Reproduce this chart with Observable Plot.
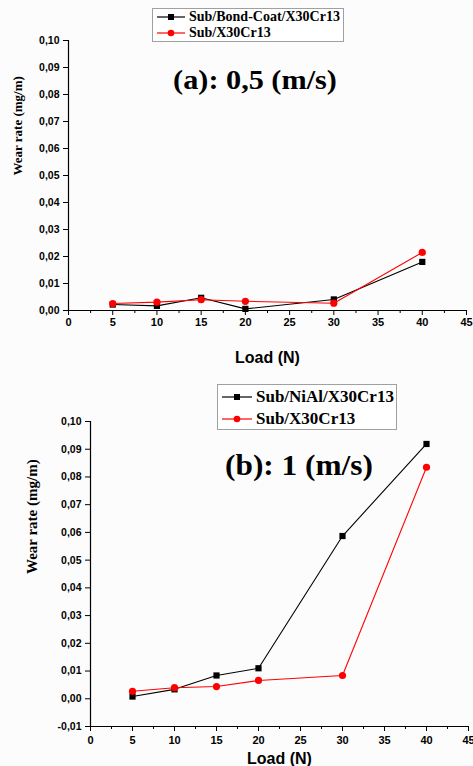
<!DOCTYPE html>
<html>
<head>
<meta charset="utf-8">
<script src="https://cdn.jsdelivr.net/npm/d3@7"></script>
<script src="https://cdn.jsdelivr.net/npm/@observablehq/plot@0.6"></script>
<style>
  html, body { margin: 0; padding: 0; background: #fcfcfc; }
  #wrap { width: 473px; height: 766px; position: relative; overflow: hidden; }
  .panel { position: relative; width: 473px; }
  .panel svg { display: block; background: transparent; }
  .title { position: absolute; font-family: "Liberation Serif", "Times New Roman", serif; font-weight: bold; color: #000; white-space: nowrap; transform: translate(-50%, -50%) scaleX(1.08); }
  .legend { position: absolute; border: 1px solid #a0a0a0; background: #fff; font-family: "Liberation Serif", "Times New Roman", serif; font-weight: bold; color: #000; box-sizing: border-box; }
  .legend .row { display: flex; align-items: center; white-space: nowrap; }
  .legend svg { display: block; flex: none; }
</style>
</head>
<body>
<div id="wrap"></div>
<script>
// ---- data ----
const loads = [5, 10, 15, 20, 30, 40];
const seriesA_names = ["Sub/Bond-Coat/X30Cr13", "Sub/X30Cr13"];
const seriesA_black = [0.0022, 0.0017, 0.0047, 0.0006, 0.0041, 0.0180];
const seriesA_red   = [0.0026, 0.0031, 0.0040, 0.0034, 0.0027, 0.0215];
const seriesB_names = ["Sub/NiAl/X30Cr13", "Sub/X30Cr13"];
const seriesB_black = [0.0008, 0.0034, 0.0084, 0.0110, 0.0587, 0.0919];
const seriesB_red   = [0.0027, 0.0040, 0.0044, 0.0066, 0.0084, 0.0835];
const xTicks = [0, 5, 10, 15, 20, 25, 30, 35, 40, 45];
const xMinorTicks = [2.5, 7.5, 12.5, 17.5, 22.5, 27.5, 32.5, 37.5, 42.5];
const yTicksA = [0, 0.01, 0.02, 0.03, 0.04, 0.05, 0.06, 0.07, 0.08, 0.09, 0.10];
const yTicksB = [-0.01, 0, 0.01, 0.02, 0.03, 0.04, 0.05, 0.06, 0.07, 0.08, 0.09, 0.10];
const titleA = "(a): 0,5 (m/s)";
const titleB = "(b): 1 (m/s)";
const xLabel = "Load (N)";
const yLabel = "Wear rate (mg/m)";

const fmt = d => d.toFixed(2).replace(".", ",");
const sansBold = {fontFamily: "Liberation Sans, Arial, sans-serif", fontWeight: "bold"};

function rows(ys) { return loads.map((x, i) => ({x, y: ys[i]})); }

function makePanel(o) {
  const black = rows(o.black), red = rows(o.red);
  const plot = Plot.plot({
    width: 473,
    height: o.height,
    marginLeft: o.ml, marginRight: o.mr, marginTop: o.mt, marginBottom: o.mb,
    style: {background: "transparent", overflow: "visible"},
    x: {domain: [0, 45]},
    y: {domain: o.ydomain},
    marks: [
      Plot.ruleY([o.ydomain[0]], {stroke: "#000", strokeWidth: 1.2}),
      Plot.ruleX([0], {stroke: "#000", strokeWidth: 1.2}),
      Plot.axisX({ticks: xTicks, tickSize: 5, tickPadding: o.xpad, tickFormat: d => String(d), fontSize: 11, ...sansBold, label: null, stroke: "#000"}),
      Plot.axisX({ticks: xMinorTicks, tickSize: 3, tickFormat: () => "", label: null}),
      Plot.axisY({ticks: o.yticks, tickSize: 5, tickPadding: 4, tickFormat: fmt, fontSize: 10.5, ...sansBold, label: null}),
      Plot.text([xLabel], {text: d => d, frameAnchor: "bottom", dy: o.xlabDy, fontSize: 16, ...sansBold, lineAnchor: "middle"}),
      Plot.text([yLabel], {text: d => d, frameAnchor: "left", rotate: -90, dx: o.ylabDx, fontSize: o.ylabSize, fontFamily: "Liberation Serif, Times New Roman, serif", fontWeight: "bold", lineAnchor: "middle"}),
      Plot.line(black, {x: "x", y: "y", stroke: "#000", strokeWidth: 1.1}),
      Plot.dot(black, {x: "x", y: "y", symbol: "square", r: 3.5, fill: "#000", stroke: "none"}),
      Plot.line(red, {x: "x", y: "y", stroke: "#ff0000", strokeWidth: 1.1}),
      Plot.dot(red, {x: "x", y: "y", symbol: "circle", r: 3.6, fill: "#ff0000", stroke: "none"})
    ]
  });
  const div = document.createElement("div");
  div.className = "panel";
  div.style.height = o.height + "px";
  div.appendChild(plot);

  const t = document.createElement("div");
  t.className = "title";
  t.textContent = o.title;
  t.style.left = o.titleX + "px";
  t.style.top = o.titleY + "px";
  t.style.fontSize = o.titleSize + "px";
  div.appendChild(t);

  const lg = document.createElement("div");
  lg.className = "legend";
  Object.assign(lg.style, {left: o.lg.left + "px", top: o.lg.top + "px", width: o.lg.w + "px", height: o.lg.h + "px", fontSize: o.lg.fs + "px", padding: o.lg.pad});
  o.names.forEach((name, i) => {
    const r = document.createElement("div");
    r.className = "row";
    r.style.height = o.lg.rowH + "px";
    const color = i === 0 ? "#000" : "#ff0000";
    const w = o.lg.sw;
    const marker = i === 0
      ? `<rect x="${w/2-3}" y="${o.lg.rowH/2-3}" width="6" height="6" fill="${color}"/>`
      : `<circle cx="${w/2}" cy="${o.lg.rowH/2}" r="3.3" fill="${color}"/>`;
    r.innerHTML = `<svg width="${w}" height="${o.lg.rowH}"><line x1="0" x2="${w}" y1="${o.lg.rowH/2}" y2="${o.lg.rowH/2}" stroke="${color}" stroke-width="1.2"/>${marker}</svg><span style="margin-left:${o.lg.gap}px">${name}</span>`;
    lg.appendChild(r);
  });
  div.appendChild(lg);
  return div;
}

const wrap = document.getElementById("wrap");
wrap.appendChild(makePanel({
  height: 374, ml: 68, mr: 7, mt: 40, mb: 64,
  ydomain: [0, 0.10], yticks: yTicksA, xpad: 3,
  xlabDy: 47, ylabDx: -51, ylabSize: 13,
  black: seriesA_black, red: seriesA_red, names: seriesA_names,
  title: titleA, titleX: 255, titleY: 80, titleSize: 28,
  lg: {left: 152, top: 8, w: 192, h: 34, fs: 14, pad: "0 0 0 4px", rowH: 16, sw: 28, gap: 4}
}));
wrap.appendChild(makePanel({
  height: 392, ml: 90, mr: 5, mt: 47, mb: 40,
  ydomain: [-0.01, 0.10], yticks: yTicksB, xpad: 5,
  xlabDy: 32, ylabDx: -58, ylabSize: 15,
  black: seriesB_black, red: seriesB_red, names: seriesB_names,
  title: titleB, titleX: 299, titleY: 91, titleSize: 29,
  lg: {left: 217, top: 10, w: 180, h: 46, fs: 17, pad: "1px 0 0 4px", rowH: 22, sw: 30, gap: 4}
}));
</script>
</body>
</html>
